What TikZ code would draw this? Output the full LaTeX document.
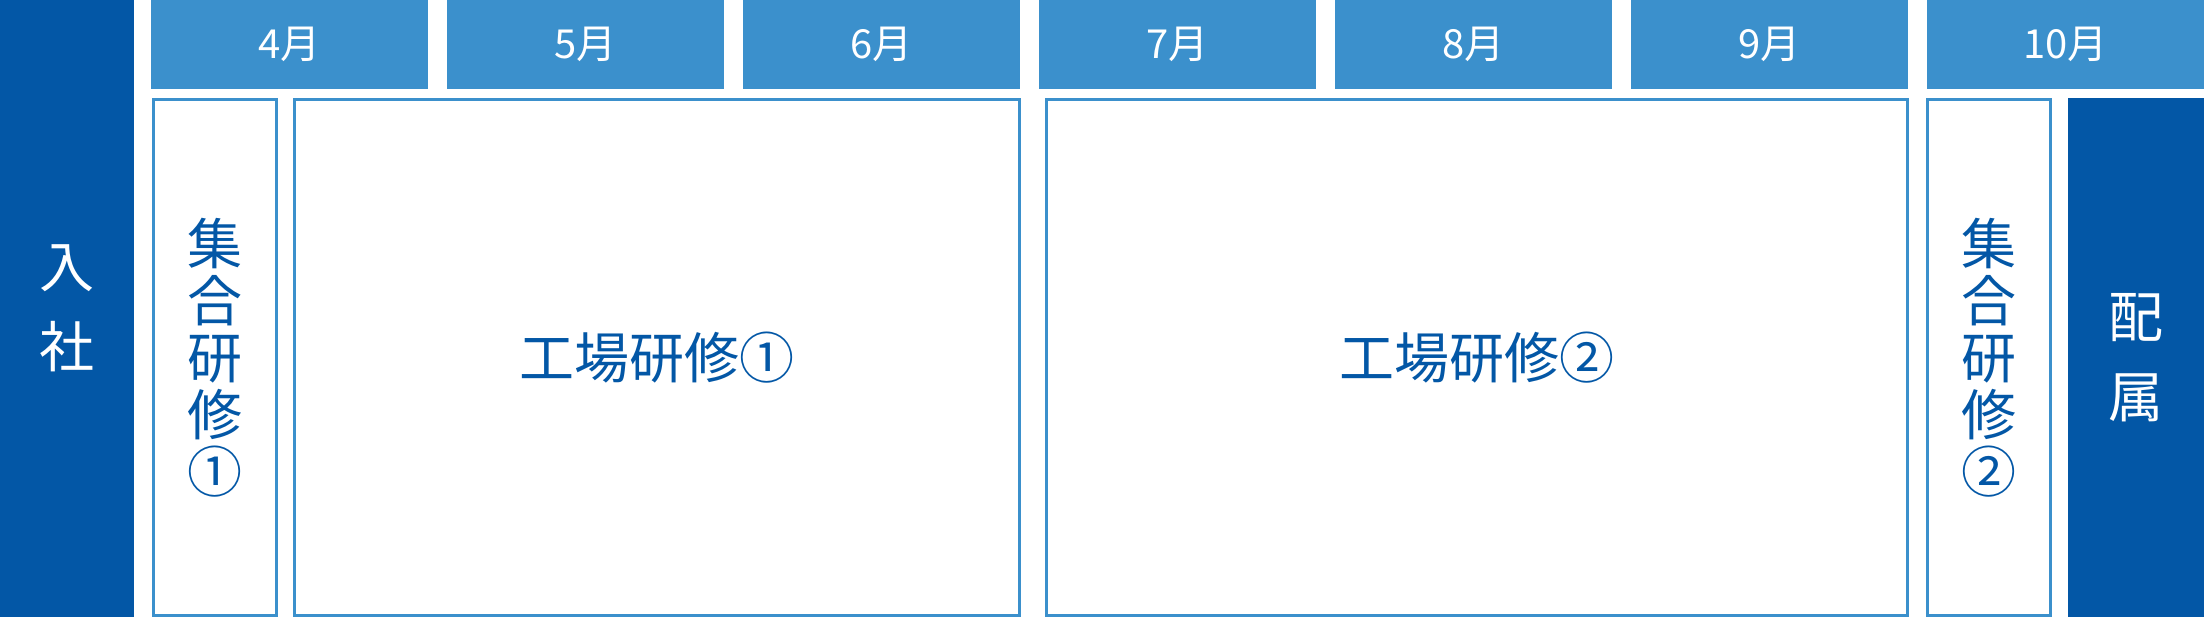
\documentclass[tikz,border=0pt]{standalone}
\usepackage{fontspec}
\setmainfont{Noto Sans CJK JP}
\definecolor{deepblue}{RGB}{3,87,166}
\definecolor{skyblue}{RGB}{59,144,204}

\begin{document}
\begin{tikzpicture}[x=1pt,y=1pt,
	month/.style={fill=skyblue,text=white,minimum width=277pt,minimum height=89pt,inner sep=0pt,font=\fontsize{40}{40}\selectfont},
	frame/.style={draw=skyblue,line width=3pt,inner sep=0pt,text=deepblue,align=center,font=\fontsize{55}{57}\selectfont},
	darkblock/.style={fill=deepblue,text=white,inner sep=0pt,align=center,font=\fontsize{55}{80}\selectfont}]
			\useasboundingbox (0,0) rectangle (2204,619);
			\node[darkblock,minimum width=134pt,minimum height=617pt] (ny) at (67,310.5) {入\\社};
			\node[month] (m4) at (289.5,574.5) {4月};
			\node[month] (m5) at (585.5,574.5) {5月};
			\node[month] (m6) at (881.5,574.5) {6月};
			\node[month] (m7) at (1177.5,574.5) {7月};
			\node[month] (m8) at (1473.5,574.5) {8月};
			\node[month] (m9) at (1769.5,574.5) {9月};
			\node[month] (m10) at (2065.5,574.5) {10月};
			\node[frame,minimum width=123pt,minimum height=516pt] (s1) at (215,261.5) {集\\合\\研\\修\\①};
			\node[frame,minimum width=725pt,minimum height=516pt] (k1) at (657,261.5) {工場研修①};
			\node[frame,minimum width=861pt,minimum height=516pt] (k2) at (1477,261.5) {工場研修②};
			\node[frame,minimum width=123pt,minimum height=516pt] (s2) at (1989,261.5) {集\\合\\研\\修\\②};
			\node[darkblock,minimum width=136pt,minimum height=519pt] (hz) at (2136,261.5) {配\\属};
		\end{tikzpicture}
\end{document}
